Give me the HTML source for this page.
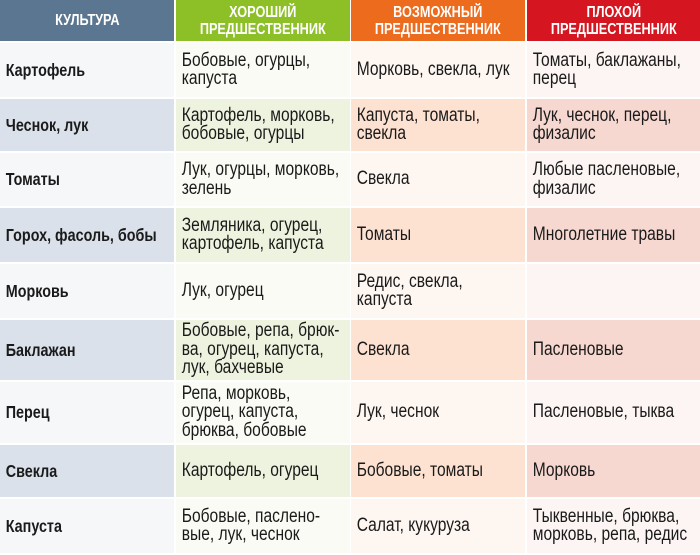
<!DOCTYPE html>
<html><head><meta charset="utf-8">
<style>
body{margin:0;width:700px;height:555px;background:#fff;overflow:hidden;font-family:"Liberation Sans",sans-serif;}
.c{position:absolute;display:flex;align-items:center;overflow:hidden}
.t{transform:scaleX(0.82);transform-origin:left center;white-space:nowrap;font-size:19px;line-height:18.5px;color:#1a1a1a;padding-left:7px}
.b .t{font-weight:bold;font-size:17.5px}
.h{justify-content:center;color:#fff;font-weight:bold;text-align:center}
.h .t{transform-origin:center center;color:#fff;font-size:15.5px;line-height:17px;padding:0;font-weight:bold}
</style></head><body>
<div id="tbl"></div>
<script>
const headers=["КУЛЬТУРА","ХОРОШИЙ<br>ПРЕДШЕСТВЕННИК","ВОЗМОЖНЫЙ<br>ПРЕДШЕСТВЕННИК","ПЛОХОЙ<br>ПРЕДШЕСТВЕННИК"];
const rows=[
["Картофель","Бобовые, огурцы,<br>капуста","Морковь, свекла, лук","Томаты, баклажаны,<br>перец"],
["Чеснок, лук","Картофель, морковь,<br>бобовые, огурцы","Капуста, томаты,<br>свекла","Лук, чеснок, перец,<br>физалис"],
["Томаты","Лук, огурцы, морковь,<br>зелень","Свекла","Любые пасленовые,<br>физалис"],
["Горох, фасоль, бобы","Земляника, огурец,<br>картофель, капуста","Томаты","Многолетние травы"],
["Морковь","Лук, огурец","Редис, свекла,<br>капуста",""],
["Баклажан","Бобовые, репа, брюк-<br>ва, огурец, капуста,<br>лук, бахчевые","Свекла","Пасленовые"],
["Перец","Репа, морковь,<br>огурец, капуста,<br>брюква, бобовые","Лук, чеснок","Пасленовые, тыква"],
["Свекла","Картофель, огурец","Бобовые, томаты","Морковь"],
["Капуста","Бобовые, паслено-<br>вые, лук, чеснок","Салат, кукуруза","Тыквенные, брюква,<br>морковь, репа, редис"]];
const colX=[0,176,351,527], colW=[174,174,174,173];
const rowY=[43,99,153,208,264,320,382,445,499], rowH=[54,52,53,54,54,60,61,52,54];
const hdrC=["#5b7690","#8dbf27","#ec6b1d","#d5151f"];
const oddC=["#f6f7f9","#fafbf4","#fdf6f1","#fcf5f3"];
const evenC=["#dae1ea","#eef3df","#fde2d1","#f6d8d0"];
const tbl=document.getElementById('tbl');
const colNames=['culture','good','possible','bad'];
for(let j=0;j<4;j++){
 const d=document.createElement('div');d.className='c h';
 d.style.cssText=`left:${colX[j]}px;top:0;width:${colW[j]}px;height:41px;background:${hdrC[j]}`;
 
 
 d.innerHTML='<div class="t">'+headers[j]+'</div>';tbl.appendChild(d);
}
rows.forEach((r,i)=>{for(let j=0;j<4;j++){
 const d=document.createElement('div');d.className='c'+(j==0?' b':'');
 d.style.cssText=`left:${colX[j]}px;top:${rowY[i]}px;width:${colW[j]}px;height:${rowH[i]}px;background:${i%2?evenC[j]:oddC[j]}`;
 
 
 d.innerHTML='<div class="t">'+r[j]+'</div>';tbl.appendChild(d);
}});
</script>
</body></html>
